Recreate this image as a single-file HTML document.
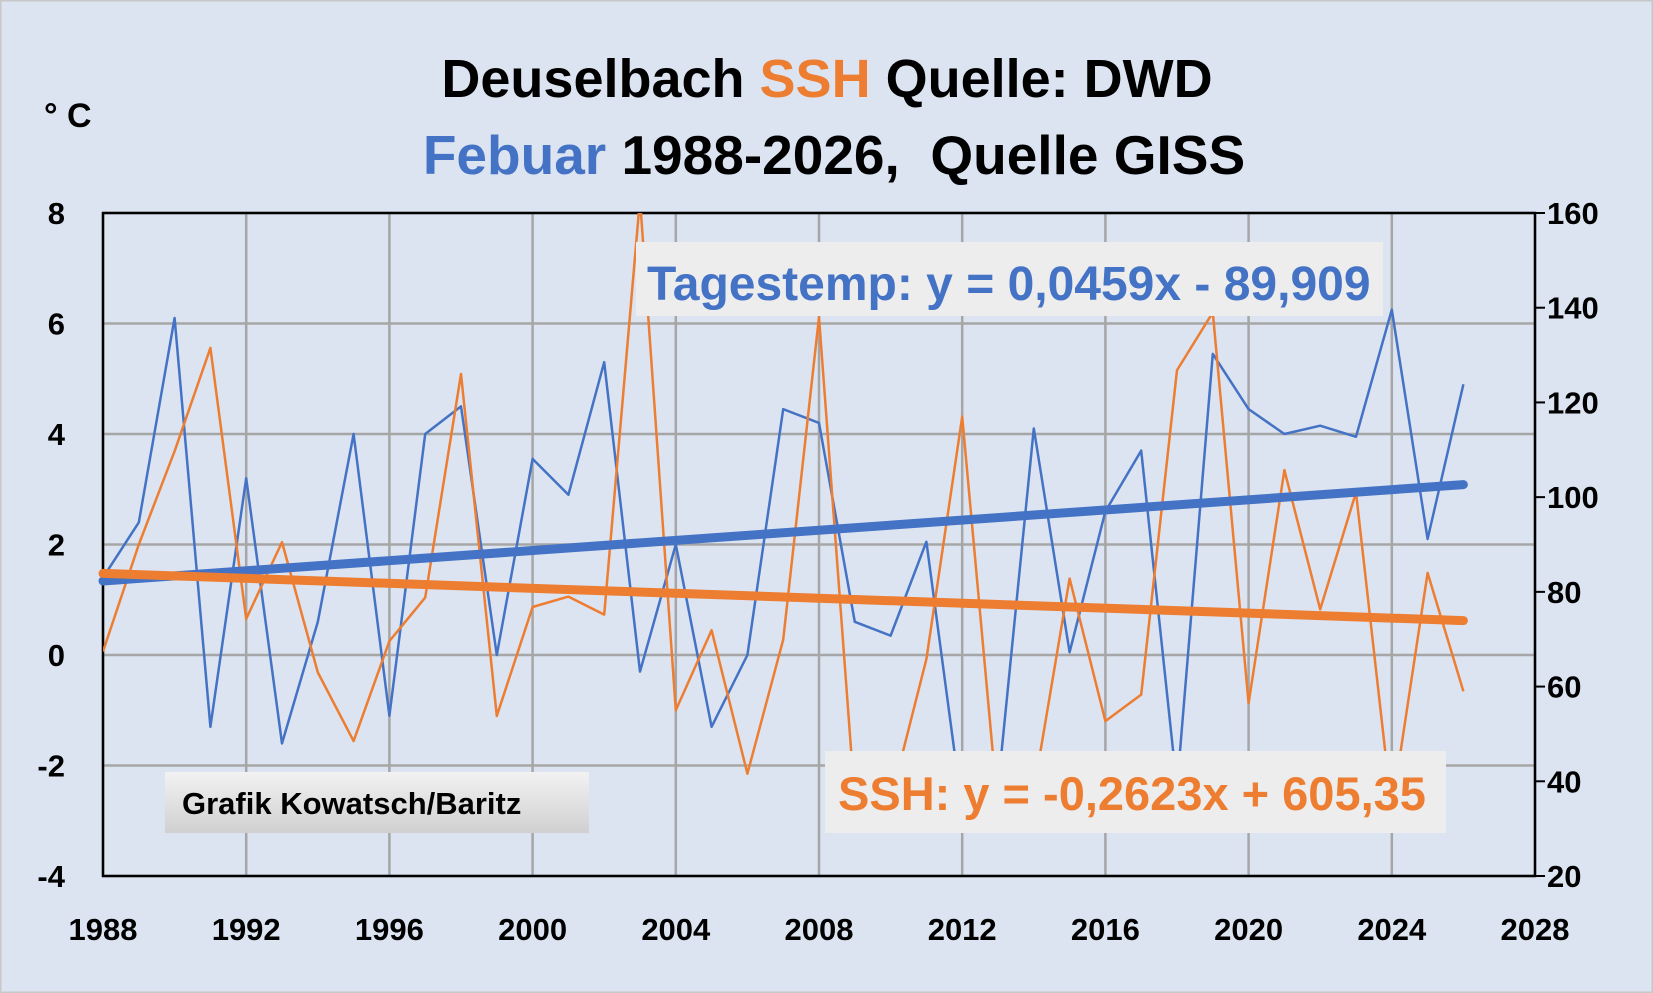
<!DOCTYPE html>
<html><head><meta charset="utf-8"><style>
body{margin:0;background:#fff}
svg{display:block;font-family:"Liberation Sans",sans-serif}
</style></head><body>
<svg id="c" width="1653" height="993" viewBox="0 0 1653 993">
<rect x="0" y="0" width="1653" height="993" fill="#DCE4F1" stroke="#c8c8c8" stroke-width="3"/>
<g id="grid"></g>
<g id="axes"></g>
<g id="series"></g>
<text x="827" y="97" text-anchor="middle" font-size="54" font-weight="bold"><tspan fill="#000">Deuselbach </tspan><tspan fill="#ED7D31">SSH</tspan><tspan fill="#000"> Quelle: DWD</tspan></text>
<text x="834" y="174" text-anchor="middle" font-size="55" font-weight="bold"><tspan fill="#4472C4">Febuar</tspan><tspan fill="#000"> 1988-2026,&#160;&#160;Quelle GISS</tspan></text>
<text x="44" y="127" font-size="34" font-weight="bold" fill="#000">° C</text>
<rect x="636" y="242" width="747" height="74" fill="#EDEDED"/>
<text x="647" y="300" font-size="48" font-weight="bold" fill="#4472C4">Tagestemp: y = 0,0459x - 89,909</text>
<rect x="825" y="751" width="621" height="82" fill="#EDEDED"/>
<text x="838" y="810" font-size="47" font-weight="bold" fill="#ED7D31">SSH: y = -0,2623x + 605,35</text>
<defs><linearGradient id="gg" x1="0" y1="0" x2="0" y2="1"><stop offset="0" stop-color="#f2f2f2"/><stop offset="1" stop-color="#d0d0d0"/></linearGradient></defs>
<rect x="165" y="772" width="424" height="61" fill="url(#gg)"/>
<text x="182" y="814" font-size="31" font-weight="bold" fill="#000">Grafik Kowatsch/Baritz</text>
</svg>
<script>
const years=[1988,1989,1990,1991,1992,1993,1994,1995,1996,1997,1998,1999,2000,2001,2002,2003,2004,2005,2006,2007,2008,2009,2010,2011,2012,2013,2014,2015,2016,2017,2018,2019,2020,2021,2022,2023,2024,2025,2026];
const tempValues=[1.4,2.4,6.1,-1.3,3.2,-1.6,0.6,4.0,-1.1,4.0,4.5,0,3.55,2.9,5.3,-0.3,2.0,-1.3,0,4.45,4.2,0.6,0.35,2.05,-2.8,-2.4,4.1,0.05,2.6,3.7,-2.4,5.45,4.45,4.0,4.15,3.95,6.25,2.1,4.9];
const sshValues=[67.4,90,109.7,131.5,74.3,90.5,63,48.5,69.6,78.8,126,53.8,76.8,79,75.2,163,55,71.9,41.6,69.9,138,36,36,65.8,117,34,38,82.8,52.7,58.3,126.8,139,56.5,105.7,76.3,101,34,84,59];
const xTicks=[1988,1992,1996,2000,2004,2008,2012,2016,2020,2024,2028];
const yLeftTicks=[-4,-2,0,2,4,6,8];
const yRightTicks=[20,40,60,80,100,120,140,160];
const tempTrend=[0.0459,-89.909];
const sshTrend=[-0.2623,605.35];
const L=103,R=1535,T=213,B=876;
const X=v=>L+(v-1988)/40*(R-L);
const YL=v=>B-(v+4)/12*(B-T);
const YR=v=>B-(v-20)/140*(B-T);
const NS='http://www.w3.org/2000/svg';
function mk(p,tag,at){const e=document.createElementNS(NS,tag);for(const k in at)e.setAttribute(k,at[k]);p.appendChild(e);return e;}
const grid=document.getElementById('grid'),axes=document.getElementById('axes'),ser=document.getElementById('series');
xTicks.forEach(t=>{const l=mk(grid,'line',{x1:X(t),x2:X(t),y1:T,y2:B,stroke:'#A6A6A6','stroke-width':2.5});


const tx=mk(axes,'text',{x:X(t),y:940,'text-anchor':'middle','font-size':31,'font-weight':'bold'});tx.textContent=t;

});
yLeftTicks.forEach(t=>{const l=mk(grid,'line',{x1:L,x2:R,y1:YL(t),y2:YL(t),stroke:'#A6A6A6','stroke-width':2.5});


const tx=mk(axes,'text',{x:65,y:YL(t)+11,'text-anchor':'end','font-size':31,'font-weight':'bold'});tx.textContent=t;

});
yRightTicks.forEach(t=>{const tk=mk(axes,'line',{x1:R,x2:R+10,y1:YR(t),y2:YR(t),stroke:'#000','stroke-width':2});


const tx=mk(axes,'text',{x:1547,y:YR(t)+11,'font-size':31,'font-weight':'bold'});tx.textContent=t;

});
const clip=mk(ser,'clipPath',{id:'pc'});mk(clip,'rect',{x:L,y:T,width:R-L,height:B-T});
const g=mk(ser,'g',{'clip-path':'url(#pc)'});
const t1=mk(g,'polyline',{points:years.map((y,i)=>X(y)+','+YL(tempValues[i])).join(' '),fill:'none',stroke:'#4472C4','stroke-width':2.5,'stroke-linejoin':'round'});


const s1=mk(g,'polyline',{points:years.map((y,i)=>X(y)+','+YR(sshValues[i])).join(' '),fill:'none',stroke:'#ED7D31','stroke-width':2.5,'stroke-linejoin':'round'});


const fr=mk(axes,'rect',{x:L,y:T,width:R-L,height:B-T,fill:'none',stroke:'#000','stroke-width':2.5});


const y0=years[0],y1=years[years.length-1];
const tt=mk(ser,'line',{x1:X(y0),y1:YL(tempTrend[0]*y0+tempTrend[1]),x2:X(y1),y2:YL(tempTrend[0]*y1+tempTrend[1]),stroke:'#4472C4','stroke-width':9,'stroke-linecap':'round'});


const st=mk(ser,'line',{x1:X(y0),y1:YR(sshTrend[0]*y0+sshTrend[1]),x2:X(y1),y2:YR(sshTrend[0]*y1+sshTrend[1]),stroke:'#ED7D31','stroke-width':9,'stroke-linecap':'round'});


</script>
</body></html>
